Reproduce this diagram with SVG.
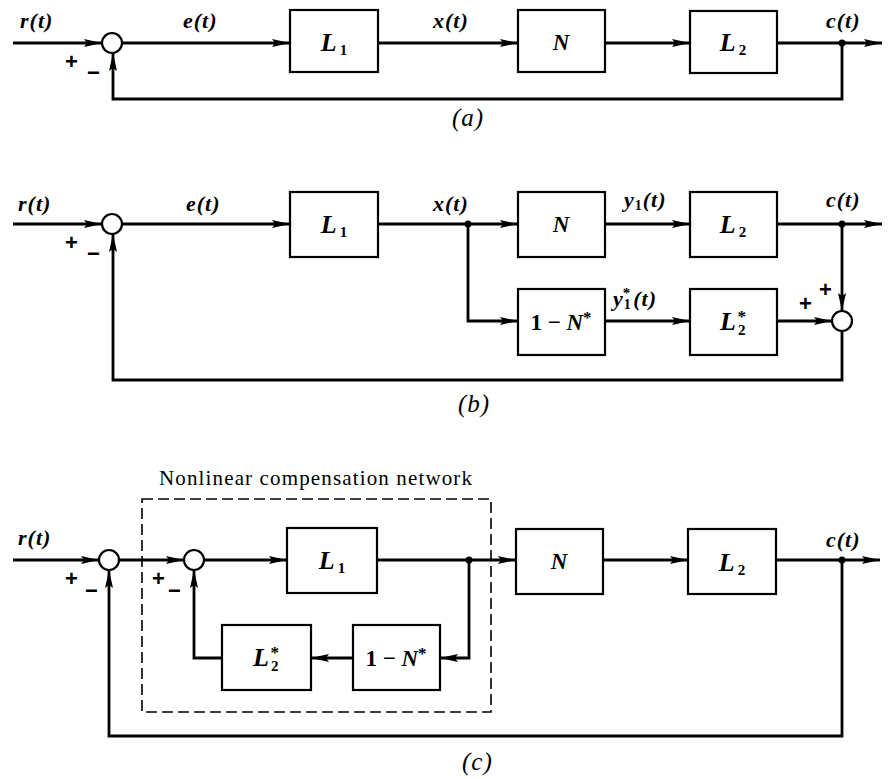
<svg xmlns="http://www.w3.org/2000/svg" width="895" height="779" viewBox="0 0 895 779">
<defs>
<marker id="ar" markerUnits="userSpaceOnUse" markerWidth="20" markerHeight="10" refX="18" refY="4.5" orient="auto">
<path d="M0,0.5 L18,4.5 L0,8.5 L3,4.5 z" fill="#000"/>
</marker>
<style>
.w{fill:none;stroke:#000;stroke-width:2.8;stroke-linejoin:miter}
.b{fill:#fff;stroke:#000;stroke-width:2.2}
.s{fill:#fff;stroke:#000;stroke-width:2.2}
.d{fill:#000}
.t{font-family:"Liberation Serif","Times New Roman",serif;font-style:italic;font-weight:bold;font-size:22px;letter-spacing:1px;fill:#000}
.bl{font-family:"Liberation Serif","Times New Roman",serif;font-style:italic;font-weight:bold;font-size:26px;fill:#000;text-anchor:middle}
.sub{font-style:normal;font-size:15px}
.sup{font-style:normal;font-size:17px}
.pm{font-family:"Liberation Sans",Arial,sans-serif;font-size:22px;font-weight:bold;fill:#000}
.cap{font-family:"Liberation Serif","Times New Roman",serif;font-style:italic;font-size:25px;letter-spacing:1px;fill:#000}
.dash{fill:none;stroke:#000;stroke-width:1.6;stroke-dasharray:11,5}
.nt{font-family:"Liberation Serif","Times New Roman",serif;font-size:21px;fill:#000}
</style>
</defs>
<rect width="895" height="779" fill="#fff"/>

<g id="connectors">
<!-- (a) -->
<path class="w" d="M13,43 H102" marker-end="url(#ar)"/>
<path class="w" d="M122,43 H290" marker-end="url(#ar)"/>
<path class="w" d="M378,43 H518" marker-end="url(#ar)"/>
<path class="w" d="M605,43 H690" marker-end="url(#ar)"/>
<path class="w" d="M777,43 H882" marker-end="url(#ar)"/>
<path class="w" d="M842,43 V99 H113 V53" marker-end="url(#ar)"/>
<!-- (b) -->
<path class="w" d="M13,224 H102" marker-end="url(#ar)"/>
<path class="w" d="M122,224 H290" marker-end="url(#ar)"/>
<path class="w" d="M378,224 H518" marker-end="url(#ar)"/>
<path class="w" d="M605,224 H690" marker-end="url(#ar)"/>
<path class="w" d="M777,224 H882" marker-end="url(#ar)"/>
<path class="w" d="M468,224 V321 H518" marker-end="url(#ar)"/>
<path class="w" d="M605,321 H690" marker-end="url(#ar)"/>
<path class="w" d="M777,321 H832" marker-end="url(#ar)"/>
<path class="w" d="M842,224 V311" marker-end="url(#ar)"/>
<path class="w" d="M842,331 V380 H113 V234" marker-end="url(#ar)"/>
<!-- (c) -->
<path class="w" d="M13,560 H99" marker-end="url(#ar)"/>
<path class="w" d="M119,560 H184" marker-end="url(#ar)"/>
<path class="w" d="M204,560 H287" marker-end="url(#ar)"/>
<path class="w" d="M377,560 H516" marker-end="url(#ar)"/>
<path class="w" d="M603,560 H688" marker-end="url(#ar)"/>
<path class="w" d="M776,560 H880" marker-end="url(#ar)"/>
<path class="w" d="M469,560 V658 H440" marker-end="url(#ar)"/>
<path class="w" d="M353,658 H311" marker-end="url(#ar)"/>
<path class="w" d="M222,658 H194 V570" marker-end="url(#ar)"/>
<path class="w" d="M842,560 V736 H109 V570" marker-end="url(#ar)"/>
</g>

<!-- (a) nodes -->
<g id="a-sum"><circle class="s" cx="112" cy="43" r="10"/></g>
<g id="a-L1"><rect class="b" x="290" y="10" width="88" height="62"/><text class="bl" x="334" y="51">L<tspan class="sub" dx="3" dy="4">1</tspan></text></g>
<g id="a-N"><rect class="b" x="518" y="10" width="87" height="62"/><text class="bl" x="561" y="50" style="font-size:23px">N</text></g>
<g id="a-L2"><rect class="b" x="690" y="11" width="87" height="62"/><text class="bl" x="733" y="51">L<tspan class="sub" dx="3" dy="4">2</tspan></text></g>
<g id="a-junction"><circle class="d" cx="842" cy="43" r="3.5"/></g>
<g id="a-labels">
<text class="t" x="20" y="28">r(t)</text>
<text class="t" x="183" y="28">e(t)</text>
<text class="t" x="433" y="28">x(t)</text>
<text class="t" x="826" y="28">c(t)</text>
<text class="pm" x="65" y="69">+</text>
<text class="pm" x="87" y="80">−</text>
<text class="cap" x="452" y="126">(a)</text>
</g>

<!-- (b) nodes -->
<g id="b-sum1"><circle class="s" cx="112" cy="224" r="10"/></g>
<g id="b-L1"><rect class="b" x="290" y="192" width="88" height="65"/><text class="bl" x="334" y="233">L<tspan class="sub" dx="3" dy="4">1</tspan></text></g>
<g id="b-N"><rect class="b" x="518" y="192" width="87" height="65"/><text class="bl" x="561" y="232" style="font-size:23px">N</text></g>
<g id="b-L2"><rect class="b" x="690" y="192" width="87" height="65"/><text class="bl" x="733" y="233">L<tspan class="sub" dx="3" dy="4">2</tspan></text></g>
<g id="b-1mN"><rect class="b" x="518" y="289" width="87" height="66"/><text class="bl" x="561" y="330" style="font-size:23px"><tspan style="font-style:normal">1 − </tspan>N<tspan class="sup" dy="-7">*</tspan></text></g>
<g id="b-L2s"><rect class="b" x="690" y="289" width="87" height="66"/><text class="bl" x="733" y="330">L<tspan class="sub" dx="2" dy="5">2</tspan><tspan class="sup" dx="-8" dy="-13">*</tspan></text></g>
<g id="b-sum2"><circle class="s" cx="842" cy="321" r="10"/></g>
<g id="b-junctions"><circle class="d" cx="468" cy="224" r="3.5"/><circle class="d" cx="842" cy="224" r="3.5"/></g>
<g id="b-labels">
<text class="t" x="18" y="211">r(t)</text>
<text class="t" x="186" y="211">e(t)</text>
<text class="t" x="433" y="211">x(t)</text>
<text class="t" x="624" y="207">y<tspan style="font-size:14px;font-style:normal" dy="3">1</tspan><tspan dy="-3">(t)</tspan></text>
<text class="t" x="826" y="207">c(t)</text>
<text class="t" x="613" y="306">y<tspan style="font-size:14px;font-style:normal" dy="3">1</tspan><tspan style="font-size:15px;font-style:normal" dx="-9" dy="-11">*</tspan><tspan dx="2" dy="8">(t)</tspan></text>
<text class="pm" x="799" y="311">+</text>
<text class="pm" x="819" y="297">+</text>
<text class="pm" x="65" y="250">+</text>
<text class="pm" x="87" y="261">−</text>
<text class="cap" x="458" y="412">(b)</text>
</g>

<!-- (c) nodes -->
<g id="c-network">
<rect class="dash" x="142" y="499" width="349" height="213"/>
<text class="nt" x="159" y="485" textLength="313" lengthAdjust="spacing">Nonlinear compensation network</text>
</g>
<g id="c-sum1"><circle class="s" cx="109" cy="560" r="10"/></g>
<g id="c-sum2"><circle class="s" cx="194" cy="560" r="10"/></g>
<g id="c-L1"><rect class="b" x="287" y="528" width="90" height="65"/><text class="bl" x="332" y="569">L<tspan class="sub" dx="3" dy="4">1</tspan></text></g>
<g id="c-1mN"><rect class="b" x="353" y="625" width="87" height="65"/><text class="bl" x="396" y="666" style="font-size:23px"><tspan style="font-style:normal">1 − </tspan>N<tspan class="sup" dy="-7">*</tspan></text></g>
<g id="c-L2s"><rect class="b" x="222" y="625" width="89" height="65"/><text class="bl" x="266" y="666">L<tspan class="sub" dx="2" dy="5">2</tspan><tspan class="sup" dx="-8" dy="-13">*</tspan></text></g>
<g id="c-N"><rect class="b" x="516" y="529" width="87" height="65"/><text class="bl" x="559" y="569" style="font-size:23px">N</text></g>
<g id="c-L2"><rect class="b" x="688" y="529" width="88" height="65"/><text class="bl" x="732" y="571">L<tspan class="sub" dx="3" dy="4">2</tspan></text></g>
<g id="c-junctions"><circle class="d" cx="469" cy="560" r="3.5"/><circle class="d" cx="842" cy="560" r="3.5"/></g>
<g id="c-labels">
<text class="t" x="18" y="545">r(t)</text>
<text class="t" x="826" y="547">c(t)</text>
<text class="pm" x="65" y="586">+</text>
<text class="pm" x="85" y="598">−</text>
<text class="pm" x="152" y="586">+</text>
<text class="pm" x="168" y="598">−</text>
<text class="cap" x="462" y="770">(c)</text>
</g>
</svg>
